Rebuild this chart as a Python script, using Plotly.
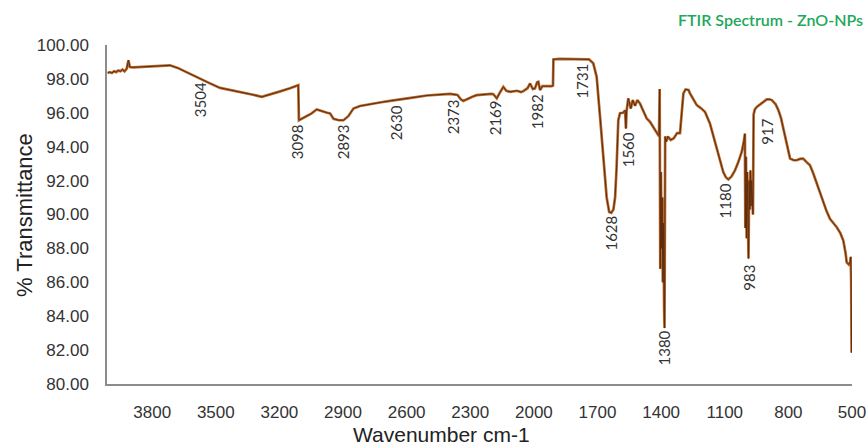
import plotly.graph_objects as go

# FTIR spectrum of ZnO nanoparticles: wavenumber (cm-1) vs % transmittance
wavenumber = [
    4010, 4000, 3990, 3980, 3970, 3960, 3950, 3940, 3930, 3920, 3912, 3905,
    3890, 3850, 3800, 3750, 3716, 3680, 3640, 3600, 3574, 3530, 3480, 3430,
    3386, 3330, 3283, 3240, 3200, 3150, 3111, 3108, 3080, 3050, 3024, 3000,
    2975, 2961, 2945, 2920, 2898, 2875, 2851, 2820, 2780, 2720, 2670, 2631,
    2580, 2505, 2450, 2395, 2360, 2345, 2333, 2310, 2290, 2270, 2230, 2200,
    2191, 2175, 2160, 2144, 2130, 2112, 2080, 2060, 2050, 2030, 2018, 2005,
    1995, 1985, 1979, 1971, 1960, 1940, 1916, 1910, 1908, 1880, 1800, 1740,
    1720, 1704, 1688, 1673, 1657, 1645, 1635, 1625, 1617, 1610, 1606, 1602,
    1594, 1580, 1570, 1566, 1563, 1555, 1543, 1534, 1523, 1512, 1500, 1484,
    1468, 1452, 1440, 1429, 1413, 1410, 1407, 1404, 1401, 1398, 1395, 1392,
    1389, 1386, 1384, 1381, 1376, 1368, 1355, 1340, 1325, 1311, 1300, 1295,
    1285, 1271, 1264, 1250, 1232, 1210, 1193, 1170, 1155, 1138, 1120, 1107,
    1095, 1083, 1068, 1052, 1036, 1020, 1010, 1005, 1003, 1000, 997, 994,
    991, 988, 985, 982, 979, 976, 973, 970, 967, 964, 958, 949,
    925, 902, 890, 878, 860, 847, 835, 823, 808, 792, 775, 761,
    745, 730, 715, 698, 682, 666, 650, 635, 620, 604, 588, 572,
    555, 541, 530, 525, 515, 509, 506, 504, 502,
]
transmittance = [
    98.35, 98.40, 98.35, 98.45, 98.40, 98.50, 98.45, 98.55, 98.45, 98.60, 99.10, 98.70,
    98.68, 98.70, 98.72, 98.76, 98.80, 98.65, 98.40, 98.15, 98.03, 97.75, 97.47, 97.35,
    97.24, 97.08, 96.94, 97.08, 97.25, 97.45, 97.63, 95.56, 95.75, 95.95, 96.20, 96.08,
    96.00, 95.96, 95.65, 95.56, 95.56, 95.80, 96.25, 96.40, 96.50, 96.62, 96.72, 96.78,
    96.88, 97.02, 97.08, 97.12, 97.05, 96.80, 96.70, 96.85, 96.95, 97.04, 97.10, 97.12,
    97.10, 96.85, 97.20, 97.53, 97.30, 97.24, 97.30, 97.22, 97.28, 97.45, 97.73, 97.40,
    97.44, 97.80, 97.83, 97.34, 97.57, 97.55, 97.57, 97.60, 99.15, 99.18, 99.18, 99.15,
    98.92, 98.12, 95.76, 93.20, 91.02, 90.15, 90.10, 90.30, 91.02, 92.80, 93.79, 95.56,
    95.98, 96.00, 96.15, 95.07, 96.10, 96.85, 96.25, 96.75, 96.41, 96.75, 96.55, 96.15,
    95.66, 95.46, 95.20, 94.97, 94.67, 94.70, 97.40, 86.80, 92.50, 88.00, 91.00, 86.00,
    89.50, 84.50, 83.30, 94.60, 94.30, 94.60, 94.40, 94.50, 94.80, 94.80, 96.50, 97.14,
    97.38, 97.35, 97.14, 96.80, 96.45, 96.25, 96.05, 95.37, 94.70, 93.98, 93.20, 92.50,
    92.20, 92.07, 92.25, 92.60, 93.10, 93.69, 94.30, 94.77, 89.20, 93.40, 88.60, 92.50,
    90.00, 87.40, 92.00, 90.30, 92.60, 90.50, 92.00, 90.80, 90.00, 95.90, 96.20, 96.35,
    96.55, 96.79, 96.80, 96.75, 96.50, 96.15, 95.70, 95.07, 94.20, 93.30, 93.20, 93.20,
    93.28, 93.30, 93.10, 92.90, 92.40, 91.82, 91.20, 90.63, 90.20, 89.75, 89.50, 89.25,
    88.90, 88.46, 87.70, 87.18, 87.05, 87.18, 87.50, 86.20, 81.85,
]

# Band assignments written beside the spectrum
peak_labels = ["3504", "3098", "2893", "2630", "2373", "2169", "1982",
               "1731", "1628", "1560", "1380", "1180", "983", "917"]
# Where each rotated band label sits (wavenumber, % transmittance)
label_x = [3574, 3117, 2900, 2650, 2381, 2183, 1985,
           1773, 1636, 1556, 1386, 1099, 984, 905]
label_y = [96.75, 94.26, 94.26, 95.38, 95.74, 95.68, 96.04,
           97.85, 88.88, 93.79, 82.10, 90.83, 86.29, 94.89]

x_ticks = [3800, 3500, 3200, 2900, 2600, 2300, 2000, 1700, 1400, 1100, 800, 500]
y_ticks = [80, 82, 84, 86, 88, 90, 92, 94, 96, 98, 100]

W, H = 867, 446
L, R, T, B = 107, 15, 45, 62
pw, ph = W - L - R, H - T - B


def paper_xy(px, py):
    """Pixel position in the page -> paper coordinates of the plot area."""
    return (px - L) / pw, 1 - (py - T) / ph


TEXT_FONT = "Liberation Sans"

fig = go.Figure()
# Warm outer stroke and darker core for the spectrum trace
fig.add_trace(go.Scatter(x=wavenumber, y=transmittance, mode="lines",
                         line=dict(color="#b86a2e", width=2.7),
                         hoverinfo="skip", showlegend=False))
fig.add_trace(go.Scatter(x=wavenumber, y=transmittance, mode="lines",
                         line=dict(color="#5e2c0d", width=1.0),
                         showlegend=False))

for txt, lx, ly in zip(peak_labels, label_x, label_y):
    fig.add_annotation(x=lx, y=ly, xref="x", yref="y", text=txt,
                       textangle=-90, showarrow=False,
                       font=dict(family="Lato", size=15, color="#333333"))

tx, ty = paper_xy(770, 20)
fig.add_annotation(x=tx, y=ty, xref="paper", yref="paper", text="FTIR Spectrum - ZnO-NPs",
                   showarrow=False, xanchor="center", yanchor="middle",
                   font=dict(family="Lato", size=16, color="#22a85a", weight=600))

# Axis titles
ax_x, ax_y = paper_xy(441, 434)
fig.add_annotation(text="Wavenumber cm-1", x=ax_x, y=ax_y, xref="paper", yref="paper",
                   showarrow=False, xanchor="center", yanchor="middle",
                   font=dict(family=TEXT_FONT, size=21, color="#222222"))
ay_x, ay_y = paper_xy(24, 215)
fig.add_annotation(text="% Transmittance", x=ay_x, y=ay_y, xref="paper", yref="paper",
                   textangle=-90, showarrow=False, xanchor="center", yanchor="middle",
                   font=dict(family=TEXT_FONT, size=22, color="#222222"))

fig.update_layout(
    width=W, height=H,
    margin=dict(l=L, r=R, t=T, b=B, autoexpand=False),
    paper_bgcolor="white", plot_bgcolor="white",
    font=dict(family=TEXT_FONT, size=17, color="#333333"),
)
fig.update_xaxes(range=[4013, 500], tickvals=x_ticks,
                 ticktext=[str(v) for v in x_ticks],
                 showgrid=False, zeroline=False, showline=True,
                 linecolor="#8c8c8c", linewidth=1.5, ticks="",
                 ticklabelstandoff=12, automargin=False,
                 tickfont=dict(family=TEXT_FONT, size=17, color="#333333"))
fig.update_yaxes(range=[80, 100], tickvals=y_ticks,
                 ticktext=[f"{v:.2f}" for v in y_ticks],
                 showgrid=False, zeroline=False, showline=True,
                 linecolor="#8c8c8c", linewidth=1.5, ticks="",
                 ticklabelstandoff=13, automargin=False,
                 tickfont=dict(family=TEXT_FONT, size=17, color="#333333"))

fig.write_html("out.html")
